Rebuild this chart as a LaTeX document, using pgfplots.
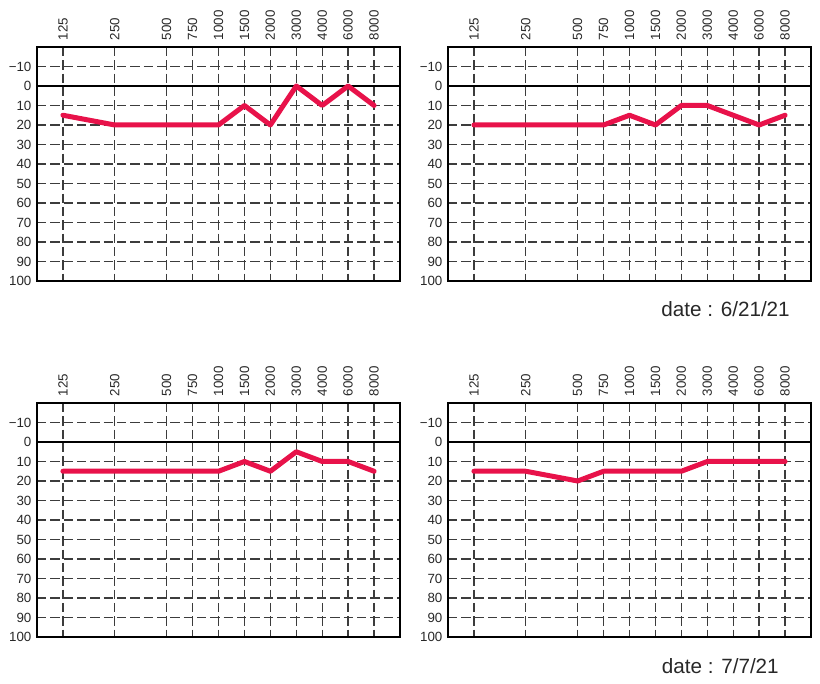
\documentclass[border=0pt]{standalone}
\usepackage{pgfplots}
\pgfplotsset{compat=1.18}
\usepackage{fontspec}
\setmainfont{Liberation Sans}
\definecolor{hear}{RGB}{232,18,74}
\definecolor{gridc}{RGB}{60,60,60}
\definecolor{labc}{RGB}{40,40,40}
\pgfplotsset{
  audio/.style={
    width=272.25pt, height=175.5pt, scale only axis,
    xmin=-1, xmax=13, ymin=-20, ymax=100, y dir=reverse,
    xtick={0,2,4,5,6,7,8,9,10,11,12},
    xticklabels={125,250,500,750,1000,1500,2000,3000,4000,6000,8000},
    xticklabel pos=upper,
    xticklabel style={rotate=90, anchor=west, inner sep=0pt},
    xticklabel shift=5pt,
    ytick={-10,10,20,30,40,50,60,70,80,90,100},
    yticklabels={−10,10,20,30,40,50,60,70,80,90,100},
    extra y ticks={0},
    extra y tick labels={0},
    extra y tick style={grid style={solid, black, line width=1pt}},
    yticklabel style={anchor=east, inner sep=0pt},
    yticklabel shift=4pt,
    ticklabel style={font=\fontsize{10}{11}\selectfont, text=labc},
    /pgf/number format/assume math mode=true,
    major tick length=0pt,
    grid=major,
    grid style={gridc, line width=1pt, dash pattern=on 7pt off 3pt},
    axis line style={black, line width=1.8pt},
    clip=false,
  },
  hl/.style={hear, line width=3.75pt, line join=round, line cap=round, mark=none},
}
\begin{document}
\begin{tikzpicture}
\path[use as bounding box] (0,0) rectangle (615pt,513pt);
% top left
\begin{axis}[audio, at={(27.75pt,477.75pt)}, anchor=north west]
\addplot[hl] coordinates {(0,15) (2,20) (4,20) (5,20) (6,20) (7,10) (8,20) (9,0) (10,10) (11,0) (12,10)};
\end{axis}
% top right
\begin{axis}[audio, at={(336pt,477.75pt)}, anchor=north west]
\addplot[hl] coordinates {(0,20) (2,20) (4,20) (5,20) (6,15) (7,20) (8,10) (9,10) (10,15) (11,20) (12,15)};
\end{axis}
% bottom left
\begin{axis}[audio, at={(27.75pt,210.75pt)}, anchor=north west]
\addplot[hl] coordinates {(0,15) (2,15) (4,15) (5,15) (6,15) (7,10) (8,15) (9,5) (10,10) (11,10) (12,15)};
\end{axis}
% bottom right
\begin{axis}[audio, at={(336pt,210.75pt)}, anchor=north west]
\addplot[hl] coordinates {(0,15) (2,15) (4,20) (5,15) (6,15) (7,15) (8,15) (9,10) (10,10) (11,10) (12,10)};
\end{axis}
\node[anchor=east, inner sep=0pt, text=labc, font=\fontsize{15.5}{17}\selectfont] at (592.5pt,281.25pt) {date : 6/21/21};
\node[anchor=east, inner sep=0pt, text=labc, font=\fontsize{15.5}{17}\selectfont] at (584.25pt,13.5pt) {date : 7/7/21};
\end{tikzpicture}
\end{document}
